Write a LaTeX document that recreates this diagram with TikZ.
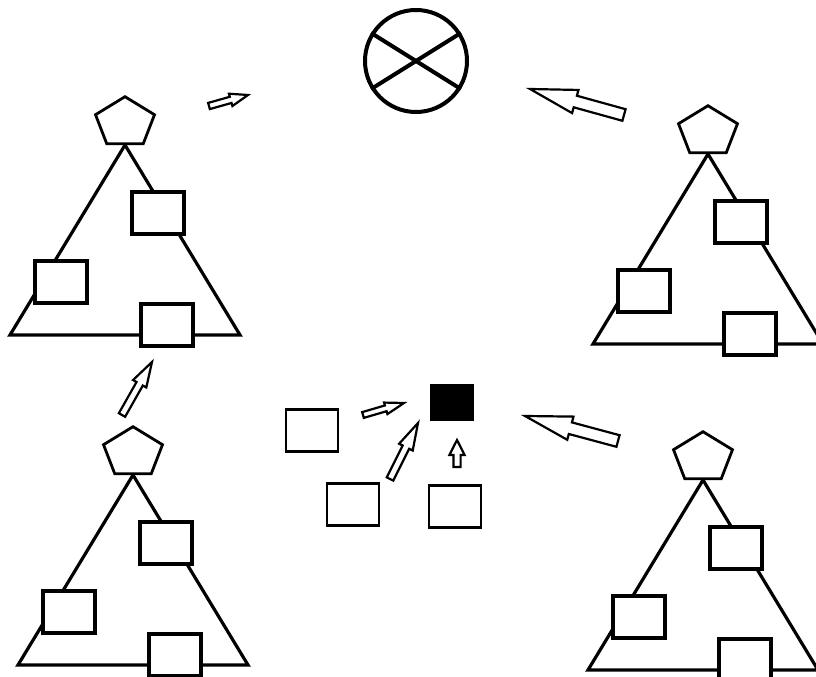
\documentclass[tikz,border=0pt]{standalone}
\usepackage{tikz}
\usetikzlibrary{calc,shapes.geometric}

% hollow block arrow: tail, tip, half shaft, half head, head length
\newcommand{\blockarr}[5]{%
  \coordinate (neck) at ($(#2)!#5!(#1)$);
  \draw[hollow] ($(#1)!#3!90:(#2)$) -- ($(neck)!#3!-90:(#1)$) -- ($(neck)!#4!-90:(#1)$) -- (#2)
    -- ($(neck)!#4!90:(#1)$) -- ($(neck)!#3!90:(#1)$) -- ($(#1)!#3!-90:(#2)$) -- cycle;}

\begin{document}
\begin{tikzpicture}[x=0.25mm, y=-0.25mm,
  box/.style={draw=black, line width=0.8mm, fill=white, minimum width=13mm, minimum height=10.5mm, inner sep=0pt},
  pent/.style={draw=black, line width=0.7mm, regular polygon, regular polygon sides=5, minimum size=15.5mm, inner sep=0pt, yscale=0.84, transform shape},
  leg/.style={line width=0.8mm},
  hollow/.style={draw=black, line width=0.55mm, fill=white, line join=miter}
]
\useasboundingbox (0,0) rectangle (816,677);

% the four groups
\foreach \g/\ax/\ay in {tl/125/145, tr/708/154, bl/133/475, br/703/480}{
  \node[pent, anchor=south] (p\g) at (\ax,\ay) {};
  \coordinate (l\g) at ($(p\g.south)+(-115,190)$);
  \coordinate (r\g) at ($(p\g.south)+(115,190)$);
  \draw[leg] (p\g.south) -- (l\g) -- (r\g) -- (p\g.south);
  \node[box] (up\g) at ($(p\g.south)+(33,68)$) {};
  \node[box] (mid\g) at ($(p\g.south)+(-64,137)$) {};
  \node[box] (low\g) at ($(p\g.south)+(42,180)$) {};
}

% crossed circle
\node[draw=black, circle, line width=1mm, minimum size=25.5mm, inner sep=0pt] (mixer) at (416,61) {};
\draw[line width=1mm] (mixer.148) -- (mixer.-32) (mixer.212) -- (mixer.32);

% centre
\node[draw=black, fill=black, minimum width=10.75mm, minimum height=9mm, inner sep=0pt] (sink) at (451.5,402) {};
\node[box, line width=0.7mm] (src1) at (312,430.5) {};
\node[box, line width=0.7mm] (src2) at (353,504.5) {};
\node[box, line width=0.7mm] (src3) at (455,506.5) {};

% arrows
\coordinate (a1s) at (209,106); \coordinate (a1e) at (248,95);
\coordinate (a2s) at (624,115); \coordinate (a2e) at (530,89);
\coordinate (a3s) at (122,415); \coordinate (a3e) at (152,362);
\coordinate (a4s) at (363,415); \coordinate (a4e) at (404,403);
\coordinate (a5s) at (390,479); \coordinate (a5e) at (418,423);
\coordinate (a6s) at (457,467); \coordinate (a6e) at (457,440);
\coordinate (a7s) at (618,441); \coordinate (a7e) at (525,416);
\blockarr{a1s}{a1e}{0.8mm}{1.6mm}{4.5mm}
\blockarr{a2s}{a2e}{1.5mm}{3mm}{11.75mm}
\blockarr{a3s}{a3e}{0.9mm}{1.9mm}{6.25mm}
\blockarr{a4s}{a4e}{0.75mm}{1.5mm}{4.75mm}
\blockarr{a5s}{a5e}{0.9mm}{1.9mm}{6.75mm}
\blockarr{a6s}{a6e}{0.9mm}{1.9mm}{3.75mm}
\blockarr{a7s}{a7e}{1.5mm}{3mm}{11.75mm}
\end{tikzpicture}
\end{document}
